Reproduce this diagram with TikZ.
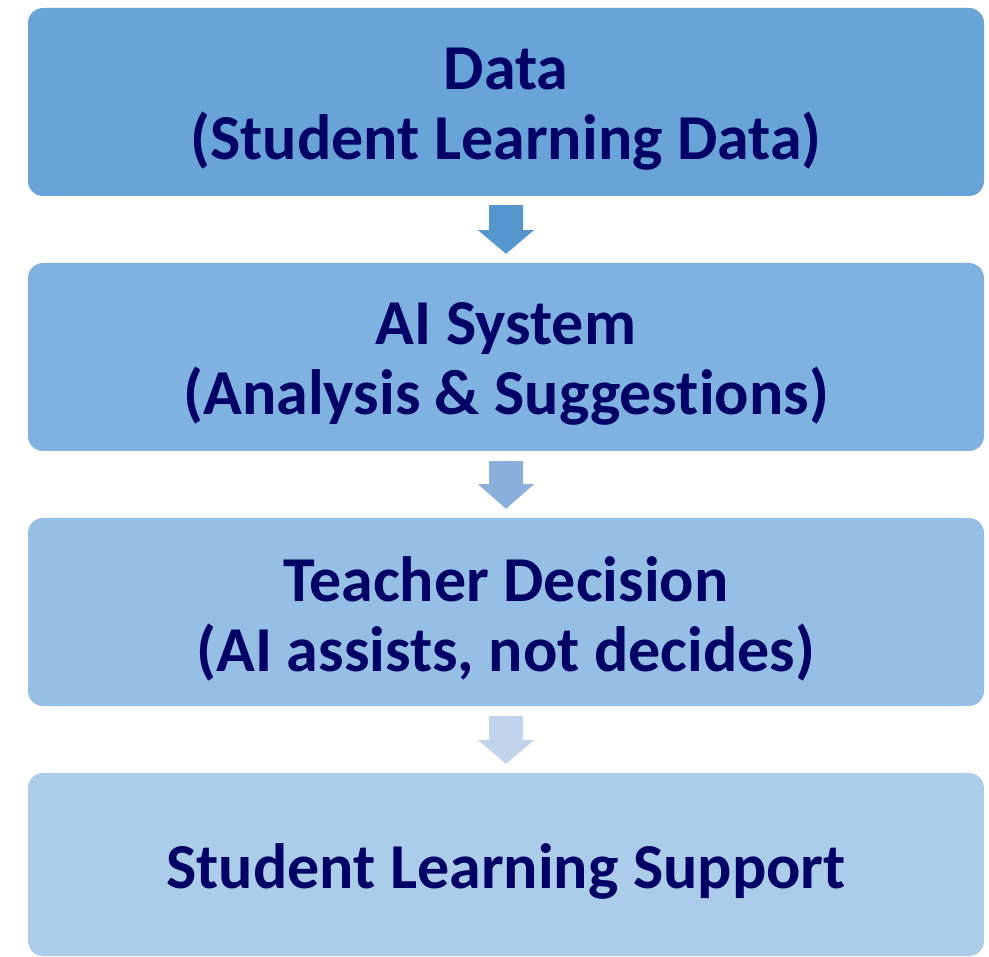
\documentclass[tikz,border=0pt]{standalone}
\usepackage{fontspec}
\setmainfont{Carlito}[Ligatures=NoCommon]
\usetikzlibrary{calc}
\definecolor{boxA}{HTML}{68A4D8}
\definecolor{boxB}{HTML}{7FB2E0}
\definecolor{boxC}{HTML}{95BFE4}
\definecolor{boxD}{HTML}{ABCDEA}
\definecolor{arrA}{HTML}{5596CC}
\definecolor{arrB}{HTML}{8BAFDB}
\definecolor{arrC}{HTML}{C2D4EB}
\definecolor{navy}{HTML}{000066}

\begin{document}
\begin{tikzpicture}[x=1pt, y=-1pt,
    stage/.style={rounded corners=15pt, minimum width=956pt, minimum height=188pt,
      inner sep=0pt},
    stagetext/.style={inner sep=0pt, align=center, text=navy, yshift=-7pt,
      font=\fontsize{64}{70}\selectfont\bfseries}]
  \useasboundingbox (0,0) rectangle (989,957);
  %--- Boxes
    \node[stage, fill=boxA, label={[stagetext]center:{Data\\(Student Learning Data)}}] (DA) at (506,102) {};
    \node[stage, fill=boxB, label={[stagetext]center:{AI System\\(Analysis \& Suggestions)}}] (AI) at (506,357) {};
    \node[stage, fill=boxC, label={[stagetext]center:{Teacher Decision\\(AI assists, not decides)}}] (TD) at (506,612) {};
    \node[stage, fill=boxD, minimum height=183pt, label={[stagetext]center:Student Learning Support}] (SL) at (506,864.5) {};
  %--- Arrows
    \fill[arrA] ($(DA.south)+(-17,9)$) -- ($(DA.south)+(17,9)$) -- ($(DA.south)+(17,34)$)
      -- ($(DA.south)+(28,34)$) -- ($(AI.north)+(0,-9)$) -- ($(DA.south)+(-28,34)$)
      -- ($(DA.south)+(-17,34)$) -- cycle;
    \fill[arrB] ($(AI.south)+(-17,10)$) -- ($(AI.south)+(17,10)$) -- ($(AI.south)+(17,33)$)
      -- ($(AI.south)+(28,33)$) -- ($(TD.north)+(0,-9)$) -- ($(AI.south)+(-28,33)$)
      -- ($(AI.south)+(-17,33)$) -- cycle;
    \fill[arrC] ($(TD.south)+(-17,10)$) -- ($(TD.south)+(17,10)$) -- ($(TD.south)+(17,34)$)
      -- ($(TD.south)+(28,34)$) -- ($(SL.north)+(0,-9)$) -- ($(TD.south)+(-28,34)$)
      -- ($(TD.south)+(-17,34)$) -- cycle;
  %---
\end{tikzpicture}
\end{document}
